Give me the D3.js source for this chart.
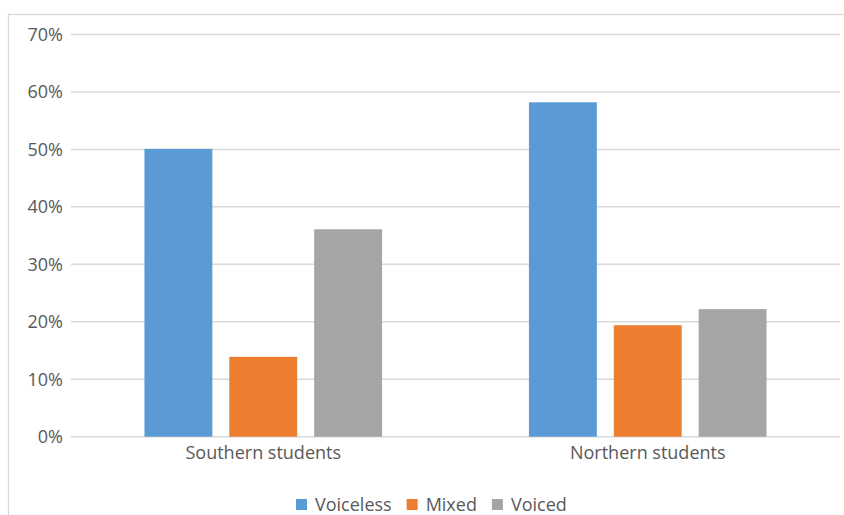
<!DOCTYPE html>
<html>
<head>
<meta charset="utf-8">
<script src="https://cdn.jsdelivr.net/npm/d3@7"></script>
<style>
  html, body { margin: 0; padding: 0; background: #fff; }
  svg { display: block; }
  text { font-family: "Open Sans", Lato, sans-serif; fill: #595959; }
</style>
</head>
<body>
<svg id="chart" width="844" height="515"></svg>
<script>
// Share of stop realisations by student group
const groups = ["Southern students", "Northern students"];
const seriesNames = ["Voiceless", "Mixed", "Voiced"];
const voiceless = [0.501, 0.582];
const mixed = [0.139, 0.194];
const voiced = [0.361, 0.222];
const seriesColors = ["#5B9BD5", "#ED7D31", "#A5A5A5"];
const yTicks = [0, 0.1, 0.2, 0.3, 0.4, 0.5, 0.6, 0.7];

const seriesValues = [voiceless, mixed, voiced];
const rows = groups.map((g, i) => ({
  group: g,
  values: seriesNames.map((s, j) => ({ series: s, value: seriesValues[j][i], color: seriesColors[j] }))
}));

const W = 844, H = 515;
const FONT = "'Open Sans', Lato, sans-serif";
const FS = 18;
const margin = { left: 71, right: 4, top: 34.5, bottom: 78.3 };
const svg = d3.select("#chart");

// chart frame
svg.append("rect")
  .attr("x", 8.5).attr("y", 14.5)
  .attr("width", W + 10).attr("height", H + 10)
  .attr("fill", "none").attr("stroke", "#d9d9d9").attr("stroke-width", 1.3);

const x0 = d3.scaleBand().domain(groups)
  .range([margin.left, W - margin.right])
  .paddingInner(0.382).paddingOuter(0.191);
const x1 = d3.scaleBand().domain(seriesNames)
  .range([0, x0.bandwidth()])
  .paddingInner(0.2);
const y = d3.scaleLinear().domain([0, 0.7]).range([H - margin.bottom, margin.top]);

// horizontal gridlines
svg.append("g").selectAll("line").data(yTicks).join("line")
  .attr("x1", margin.left).attr("x2", W - margin.right)
  .attr("y1", d => y(d)).attr("y2", d => y(d))
  .attr("stroke", "#d9d9d9").attr("stroke-width", 1.5);

// y axis labels
const yAxis = d3.axisLeft(y).tickValues(yTicks).tickFormat(d3.format(".0%")).tickSize(0).tickPadding(8);
const yg = svg.append("g").attr("transform", `translate(${margin.left},0)`).call(yAxis);
yg.select(".domain").remove();
yg.selectAll("text").attr("font-size", FS).attr("fill", "#595959").style("font-family", FONT);

// bars
const gGroups = svg.append("g").selectAll("g").data(rows).join("g")
  .attr("transform", d => `translate(${x0(d.group)},0)`);
gGroups.selectAll("rect").data(d => d.values).join("rect")
  .attr("x", d => x1(d.series))
  .attr("width", x1.bandwidth())
  .attr("y", d => y(d.value))
  .attr("height", d => y(0) - y(d.value))
  .attr("fill", d => d.color);

// category axis
const xAxis = d3.axisBottom(x0).tickSize(0).tickPadding(10);
const xg = svg.append("g").attr("transform", `translate(0,${y(0)})`).call(xAxis);
xg.select(".domain").remove();
xg.selectAll("text").attr("font-size", FS).attr("fill", "#595959").style("font-family", FONT);

// legend
const legend = svg.append("g").attr("transform", "translate(0,505)");
let lx = 296;
seriesNames.forEach((s, j) => {
  legend.append("rect").attr("x", lx).attr("y", -6).attr("width", 11).attr("height", 11)
    .attr("fill", seriesColors[j]);
  const t = legend.append("text").attr("x", lx + 19).attr("y", 6)
    .attr("font-size", FS).style("font-family", FONT).text(s);
  lx += 19 + t.node().getComputedTextLength() + 15;
});
</script>
</body>
</html>
